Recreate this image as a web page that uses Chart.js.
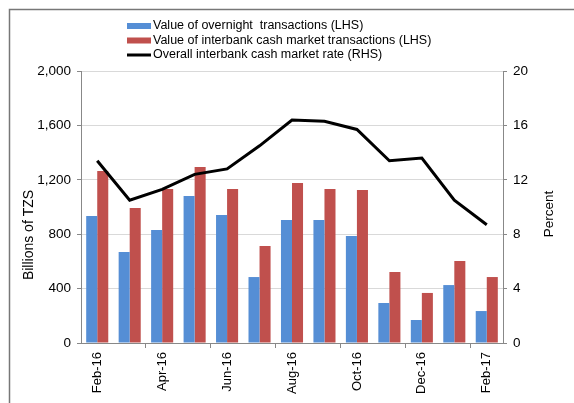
<!DOCTYPE html>
<html>
<head>
<meta charset="utf-8">
<script src="https://cdn.jsdelivr.net/npm/chart.js@4.4.0/dist/chart.umd.min.js"></script>
<style>
  html, body { margin: 0; padding: 0; background: #fff; }
</style>
</head>
<body>
<canvas id="chart" width="574" height="403"></canvas>
<script>
// data
const months = ['Feb-16', 'Mar-16', 'Apr-16', 'May-16', 'Jun-16', 'Jul-16', 'Aug-16',
                'Sep-16', 'Oct-16', 'Nov-16', 'Dec-16', 'Jan-17', 'Feb-17'];
const overnightValues = [934, 669, 831, 1081, 941, 485, 904, 904, 787, 294, 169, 426, 235];
const interbankValues = [1265, 993, 1132, 1294, 1132, 713, 1176, 1132, 1125, 522, 368, 603, 485];
const interbankRate = [13.4, 10.5, 11.3, 12.4, 12.8, 14.5, 16.4, 16.3, 15.7, 13.4, 13.6, 10.5, 8.7];

const leftAxisMax = 2000;
const leftAxisStep = 400;
const rightAxisMax = 20;
const rightAxisStep = 4;

const FONT = "'Liberation Sans', Arial, sans-serif";
Chart.defaults.font.family = FONT;
Chart.defaults.font.size = 13;
Chart.defaults.color = '#000';

// legend, axis titles and frame drawn by hand (legend is stacked in one column)
const extrasPlugin = {
    id: 'extras',
    afterDraw(chart) {
        const ctx = chart.ctx;
        ctx.save();

        // frame (top and left only)
        ctx.strokeStyle = '#777';
        ctx.lineWidth = 1.5;
        ctx.beginPath();
        ctx.moveTo(574, 9.5);
        ctx.lineTo(9.5, 9.5);
        ctx.lineTo(9.5, 403);
        ctx.stroke();

        // legend
        ctx.font = '12.5px ' + FONT;
        ctx.textBaseline = 'middle';
        const rows = [26, 40.5, 55];
        chart.data.datasets.forEach((ds, i) => {
            const y = rows[i];
            if (ds.type === 'line') {
                ctx.strokeStyle = ds.borderColor;
                ctx.lineWidth = 3;
                ctx.beginPath();
                ctx.moveTo(127, y);
                ctx.lineTo(151, y);
                ctx.stroke();
            } else {
                ctx.fillStyle = ds.backgroundColor;
                ctx.fillRect(127, y - 3, 24, 6);
            }
            ctx.fillStyle = '#000';
            ctx.textAlign = 'left';
            ctx.fillText(ds.label, 153, y);
        });

        // axis titles, both reading bottom to top
        ctx.textAlign = 'center';
        ctx.font = '14px ' + FONT;
        ctx.save();
        ctx.translate(29, 235);
        ctx.rotate(-Math.PI / 2);
        ctx.fillText('Billions of TZS', 0, 0);
        ctx.restore();
        ctx.font = '13.5px ' + FONT;
        ctx.save();
        ctx.translate(549, 214);
        ctx.rotate(-Math.PI / 2);
        ctx.fillText('Percent', 0, 0);
        ctx.restore();

        ctx.restore();
    }
};

const ctx = document.getElementById('chart').getContext('2d');
new Chart(ctx, {
    type: 'bar',
    data: {
        labels: months,
        datasets: [
            {
                label: 'Value of overnight  transactions (LHS)',
                data: overnightValues,
                backgroundColor: '#558ED5',
                yAxisID: 'y',
                order: 1
            },
            {
                label: 'Value of interbank cash market transactions (LHS)',
                data: interbankValues,
                backgroundColor: '#C0504D',
                yAxisID: 'y',
                order: 1
            },
            {
                type: 'line',
                label: 'Overall interbank cash market rate (RHS)',
                data: interbankRate,
                borderColor: '#000',
                backgroundColor: '#000',
                borderWidth: 3,
                pointRadius: 0,
                tension: 0,
                yAxisID: 'y1',
                order: 0
            }
        ]
    },
    options: {
        responsive: false,
        animation: false,
        devicePixelRatio: 1,
        layout: { padding: { top: 71, left: 0, right: 0, bottom: 0 } },
        categoryPercentage: 0.68,
        barPercentage: 1,
        plugins: {
            legend: { display: false },
            tooltip: { enabled: false }
        },
        scales: {
            x: {
                offset: true,
                grid: {
                    offset: true,
                    drawOnChartArea: false,
                    tickLength: 5,
                    tickColor: (c) => (c.index > 0 && c.index % 2 === 0) ? '#888' : 'rgba(0,0,0,0)'
                },
                border: { color: '#888', width: 1 },
                ticks: {
                    autoSkip: false,
                    minRotation: 90,
                    maxRotation: 90,
                    padding: 4,
                    callback: function (v, i) { return i % 2 === 0 ? this.getLabelForValue(v) : ''; }
                },
                afterFit: (s) => { s.height = 60; }
            },
            y: {
                position: 'left',
                min: 0,
                max: leftAxisMax,
                ticks: {
                    stepSize: leftAxisStep,
                    padding: 6,
                    font: { size: 13.5 },
                    callback: (v) => v.toLocaleString('en-US')
                },
                grid: { color: '#d9d9d9', tickColor: '#888', tickLength: 4 },
                border: { color: '#888' },
                afterFit: (s) => { s.width = 81; }
            },
            y1: {
                position: 'right',
                min: 0,
                max: rightAxisMax,
                ticks: { stepSize: rightAxisStep, padding: 6, font: { size: 13.5 } },
                grid: { drawOnChartArea: false, tickColor: '#888', tickLength: 4 },
                border: { color: '#888' },
                afterFit: (s) => { s.width = 71; }
            }
        }
    },
    plugins: [extrasPlugin]
});
</script>
</body>
</html>
